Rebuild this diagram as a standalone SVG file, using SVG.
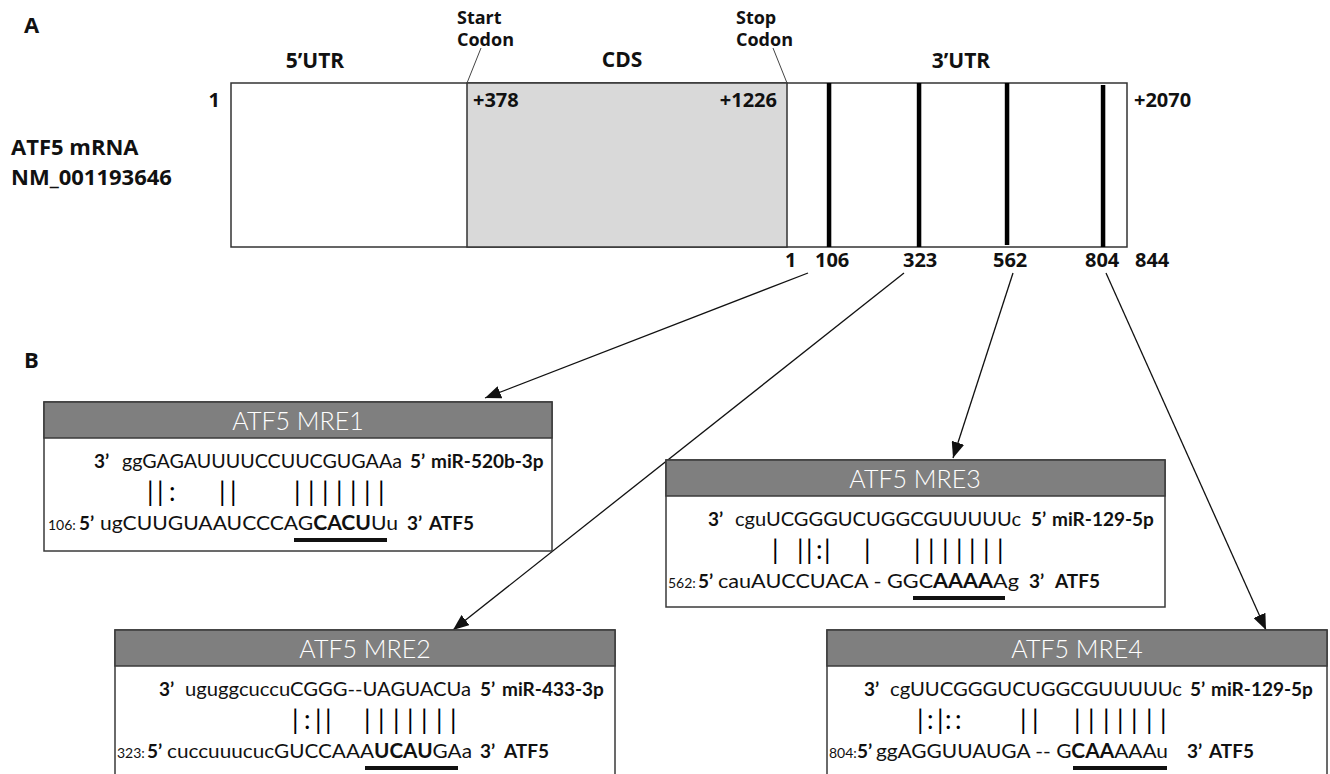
<svg xmlns="http://www.w3.org/2000/svg" width="1330" height="774" viewBox="0 0 1330 774">
<style>
.top{font-family:"Open Sans","Noto Sans","DejaVu Sans",sans-serif;font-weight:bold;fill:#111}
.seq{font-family:Lato,"Open Sans",sans-serif;font-size:20px;fill:#111}
.lb{font-family:Lato,"Open Sans",sans-serif;font-size:19px;font-weight:bold;fill:#111}
.pos{font-family:Lato,"Open Sans",sans-serif;font-size:14px;fill:#111}
.bar{font-family:Lato,"Open Sans",sans-serif;font-size:26px;fill:#000}
.hd{font-family:Lato,"Open Sans",sans-serif;font-size:25px;font-weight:300;fill:#fff;text-anchor:middle}
.box{fill:#fff;stroke:#3a3a3a;stroke-width:1.5}
.hbar{fill:#7f7f7f;stroke:#3a3a3a;stroke-width:1.5}
.ul{fill:#111}
.conn{stroke:#111;stroke-width:1.3;fill:none;marker-end:url(#ah)}
.lead{stroke:#444;stroke-width:1;fill:none}
</style>
<defs>
<marker id="ah" markerUnits="userSpaceOnUse" markerWidth="17" markerHeight="13" refX="16" refY="6.5" orient="auto">
<path d="M0,0 L16,6.5 L0,13 z" fill="#111"/>
</marker>
</defs>
<rect width="1330" height="774" fill="#fff"/>

<g id="panel-labels">
<text class="top" x="24" y="33" font-size="22">A</text>
<text class="top" x="24" y="368" font-size="22">B</text>
</g>

<g id="mrna">
<text class="top" x="11" y="155" font-size="22">ATF5 mRNA</text>
<text class="top" x="11" y="185" font-size="22">NM_001193646</text>
<rect x="231" y="83" width="896" height="164" fill="#fff" stroke="#333" stroke-width="1.5"/>
<rect x="467" y="83" width="320" height="164" fill="#d9d9d9" stroke="#333" stroke-width="1.5"/>
<rect x="826.8" y="83" width="4.5" height="164" fill="#000"/>
<rect x="916.8" y="83" width="4.5" height="164" fill="#000"/>
<rect x="1004.8" y="83" width="4.5" height="162" fill="#000"/>
<rect x="1100.8" y="85" width="4.5" height="162" fill="#000"/>
<text class="top" x="315" y="68" font-size="21" text-anchor="middle">5’UTR</text>
<text class="top" x="622" y="67" font-size="21" text-anchor="middle">CDS</text>
<text class="top" x="961" y="68" font-size="21" text-anchor="middle">3’UTR</text>
<text class="top" x="457" y="24" font-size="18">Start</text>
<text class="top" x="457" y="46" font-size="18">Codon</text>
<text class="top" x="736" y="24" font-size="18">Stop</text>
<text class="top" x="736" y="46" font-size="18">Codon</text>
<line class="lead" x1="481" y1="48" x2="467" y2="83"/>
<line class="lead" x1="773" y1="48" x2="787" y2="83"/>
<text class="top" x="220" y="107" font-size="20" text-anchor="end">1</text>
<text class="top" x="473" y="107" font-size="20">+378</text>
<text class="top" x="777" y="107" font-size="20" text-anchor="end">+1226</text>
<text class="top" x="1134" y="107" font-size="20">+2070</text>
<text class="top" x="785" y="267" font-size="20">1</text>
<text class="top" x="815" y="267" font-size="20">106</text>
<text class="top" x="903" y="267" font-size="20">323</text>
<text class="top" x="993" y="267" font-size="20">562</text>
<text class="top" x="1085" y="267" font-size="20">804</text>
<text class="top" x="1135" y="267" font-size="20">844</text>
</g>

<g id="connectors">
<line class="conn" x1="808" y1="273" x2="485" y2="398"/>
<line class="conn" x1="904" y1="273" x2="453" y2="630"/>
<line class="conn" x1="1013" y1="273" x2="953" y2="458"/>
<line class="conn" x1="1106" y1="273" x2="1266" y2="630"/>
</g>

<g id="mre1">
<rect class="box" x="44" y="402" width="508" height="149"/>
<rect class="hbar" x="44" y="402" width="508" height="36"/>
<text class="hd" x="298" y="430">ATF5 MRE1</text>
<text class="lb" x="94" y="468">3’</text>
<text class="seq" x="122" y="468" textLength="280" lengthAdjust="spacingAndGlyphs">ggGAGAUUUUCCUUCGUGAAa</text>
<text class="lb" x="410" y="468">5’</text>
<text class="lb" x="431" y="468">miR-520b-3p</text>
<text class="bar" x="147 157 169 219 230 294 308 322 336 350 364 378" y="501">||:|||||||||</text>
<text class="pos" x="48" y="530">106:</text>
<text class="lb" x="79" y="530">5’</text>
<text class="seq" x="100" y="530" textLength="298" lengthAdjust="spacingAndGlyphs">ugCUUGUAAUCCCAG<tspan font-weight="bold">CACU</tspan>Uu</text>
<text class="lb" x="407" y="530">3’</text>
<text class="lb" x="429" y="530">ATF5</text>
<rect class="ul" x="294" y="538" width="93" height="4"/>
</g>

<g id="mre2">
<rect class="box" x="115" y="630" width="500" height="150"/>
<rect class="hbar" x="115" y="630" width="500" height="36"/>
<text class="hd" x="365" y="658">ATF5 MRE2</text>
<text class="lb" x="159" y="696">3’</text>
<text class="seq" x="185" y="696" textLength="286" lengthAdjust="spacingAndGlyphs">uguggcuccuCGGG--UAGUACUa</text>
<text class="lb" x="480" y="696">5’</text>
<text class="lb" x="502" y="696">miR-433-3p</text>
<text class="bar" x="292 304 315 325 364 378 393 407 421 436 450" y="729">|:|||||||||</text>
<text class="pos" x="117" y="758">323:</text>
<text class="lb" x="147" y="758">5’</text>
<text class="seq" x="167" y="758" textLength="305" lengthAdjust="spacingAndGlyphs">cuccuuucucGUCCAAA<tspan font-weight="bold">UCAU</tspan>GAa</text>
<text class="lb" x="480" y="758">3’</text>
<text class="lb" x="504" y="758">ATF5</text>
<rect class="ul" x="365" y="766" width="93" height="4"/>
</g>

<g id="mre3">
<rect class="box" x="666" y="460" width="499" height="147"/>
<rect class="hbar" x="666" y="460" width="499" height="36"/>
<text class="hd" x="915" y="488">ATF5 MRE3</text>
<text class="lb" x="708" y="526">3’</text>
<text class="seq" x="735" y="526" textLength="286" lengthAdjust="spacingAndGlyphs">cguUCGGGUCUGGCGUUUUUc</text>
<text class="lb" x="1031" y="526">5’</text>
<text class="lb" x="1052" y="526">miR-129-5p</text>
<text class="bar" x="772 797 806 816 824 864 914 928 942 956 969 983 997" y="559">|||:|||||||||</text>
<text class="pos" x="668" y="588">562:</text>
<text class="lb" x="698" y="588">5’</text>
<text class="seq" x="718" y="588" textLength="301" lengthAdjust="spacingAndGlyphs">cauAUCCUACA - GGC<tspan font-weight="bold">AAAA</tspan>Ag</text>
<text class="lb" x="1029" y="588">3’</text>
<text class="lb" x="1055" y="588">ATF5</text>
<rect class="ul" x="913" y="596" width="92" height="4"/>
</g>

<g id="mre4">
<rect class="box" x="827" y="630" width="500" height="150"/>
<rect class="hbar" x="827" y="630" width="500" height="36"/>
<text class="hd" x="1077" y="658">ATF5 MRE4</text>
<text class="lb" x="864" y="696">3’</text>
<text class="seq" x="890" y="696" textLength="292" lengthAdjust="spacingAndGlyphs">cgUUCGGGUCUGGCGUUUUUc</text>
<text class="lb" x="1190" y="696">5’</text>
<text class="lb" x="1211" y="696">miR-129-5p</text>
<text class="bar" x="917 927 937 945 955 1020 1032 1074 1088 1103 1117 1131 1146 1160" y="729">|:|::|||||||||</text>
<text class="pos" x="829" y="758" font-size="13">804:</text>
<text class="lb" x="857" y="758">5’</text>
<text class="seq" x="876" y="758" textLength="292" lengthAdjust="spacingAndGlyphs">ggAGGUUAUGA -- G<tspan font-weight="bold">CAA</tspan>AAAu</text>
<text class="lb" x="1187" y="758">3’</text>
<text class="lb" x="1209" y="758">ATF5</text>
<rect class="ul" x="1073" y="766" width="94" height="4"/>
</g>
</svg>
